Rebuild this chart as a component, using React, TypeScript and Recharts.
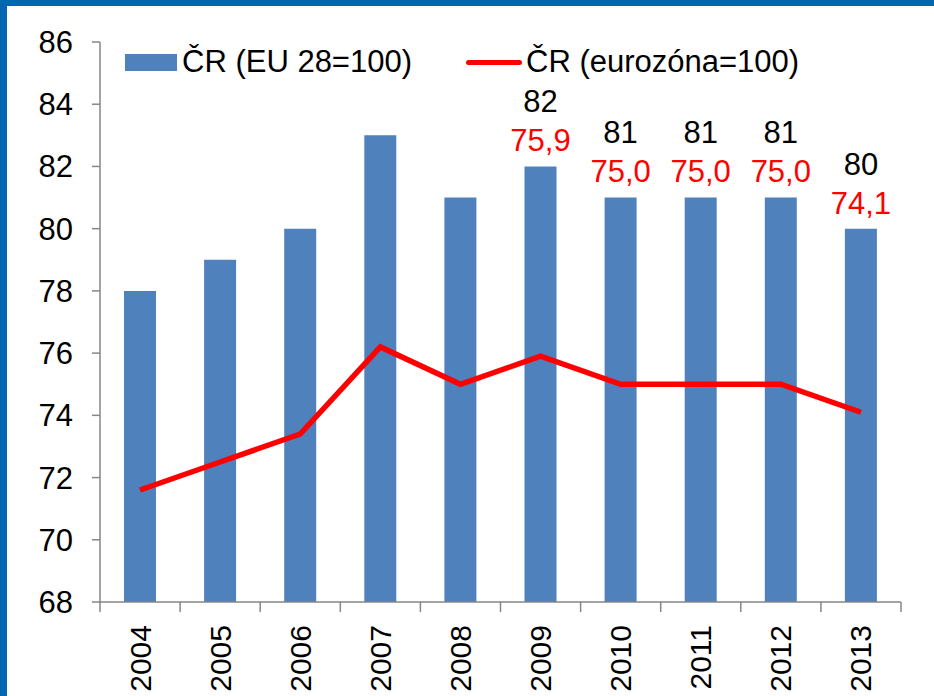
import { ComposedChart, Bar, Line, XAxis, YAxis, LabelList } from 'recharts';

const years = ['2004', '2005', '2006', '2007', '2008', '2009', '2010', '2011', '2012', '2013'];
const euValues = [78, 79, 80, 83, 81, 82, 81, 81, 81, 80];
const ezValues = [71.6, 72.5, 73.4, 76.2, 75.0, 75.9, 75.0, 75.0, 75.0, 74.1];
const yTicks = [68, 70, 72, 74, 76, 78, 80, 82, 84, 86];
const labeledYears = ['2009', '2010', '2011', '2012', '2013'];
const euName = 'ČR (EU 28=100)';
const ezName = 'ČR (eurozóna=100)';

const data = years.map((year, i) => ({ year, eu: euValues[i], ez: ezValues[i] }));

const FONT = '"Liberation Sans", Arial, sans-serif';
const FS = 31;
const FS_X = 30;
const BLUE = '#4F81BD';
const RED = '#FF0000';
const AXIS = '#868686';

const CHART_W = 927;
const CHART_H = 690;
const MARGIN = { top: 36, right: 33, bottom: 0, left: 0 };
const Y_AXIS_W = 93;
const X_AXIS_H = 94;
const band = (CHART_W - MARGIN.left - MARGIN.right - Y_AXIS_W) / years.length;

const fmt = (v: number) => v.toFixed(1).replace('.', ',');

const YearTick = (props: any) => {
  const { x, y, payload, index } = props;
  const last = index === years.length - 1;
  const tx = x + FS_X * 0.35;
  return (
    <g>
      <line x1={x - band / 2} y1={y} x2={x - band / 2} y2={y + 10} stroke={AXIS} strokeWidth={1.5} />
      {last && (
        <line x1={x + band / 2} y1={y} x2={x + band / 2} y2={y + 10} stroke={AXIS} strokeWidth={1.5} />
      )}
      <text
        x={tx}
        y={y + 23}
        transform={`rotate(-90, ${tx}, ${y + 23})`}
        textAnchor="end"
        fontSize={FS_X}
        fontFamily={FONT}
        fill="#000"
      >
        {payload.value}
      </text>
    </g>
  );
};

const ValueLabels = (props: any) => {
  const { x, y, width, index } = props;
  if (!labeledYears.includes(years[index])) return null;
  const cx = x + width / 2;
  return (
    <g fontFamily={FONT} fontSize={FS} textAnchor="middle">
      <text x={cx} y={y - 65 + FS * 0.35} fill="#000">
        {euValues[index]}
      </text>
      <text x={cx} y={y - 26 + FS * 0.35} fill={RED}>
        {fmt(ezValues[index])}
      </text>
    </g>
  );
};

export default function App() {
  return (
    <div
      style={{
        position: 'fixed',
        left: 0,
        top: 0,
        width: 934,
        height: 696,
        background: '#fff',
        boxSizing: 'border-box',
        borderTop: '6px solid #0067B0',
        borderLeft: '7px solid #0067B0',
        fontFamily: FONT,
        overflow: 'hidden',
      }}
    >
      <ComposedChart width={CHART_W} height={CHART_H} data={data} margin={MARGIN} barCategoryGap="60%">
        <XAxis
          dataKey="year"
          height={X_AXIS_H}
          axisLine={{ stroke: AXIS, strokeWidth: 1.5 }}
          tickLine={false}
          tickSize={0}
          tickMargin={0}
          interval={0}
          tick={<YearTick />}
        />
        <YAxis
          width={Y_AXIS_W}
          domain={[68, 86]}
          ticks={yTicks}
          interval={0}
          axisLine={{ stroke: AXIS, strokeWidth: 1.5 }}
          tickLine={{ stroke: AXIS, strokeWidth: 1.5 }}
          tickSize={8}
          tickMargin={19}
          tick={{ fill: '#000', fontSize: FS, fontFamily: FONT }}
        />
        <Bar dataKey="eu" name={euName} fill={BLUE} barSize={32} isAnimationActive={false}>
          <LabelList dataKey="eu" content={<ValueLabels />} />
        </Bar>
        <Line
          dataKey="ez"
          name={ezName}
          type="linear"
          stroke={RED}
          strokeWidth={5.5}
          dot={false}
          activeDot={false}
          isAnimationActive={false}
        />
      </ComposedChart>
      <div
        style={{
          position: 'absolute',
          left: 118,
          top: 40,
          display: 'flex',
          alignItems: 'center',
          height: 32,
          fontSize: FS,
          color: '#000',
          whiteSpace: 'nowrap',
        }}
      >
        <span style={{ display: 'inline-block', width: 52, height: 17, background: BLUE, marginRight: 5 }} />
        <span>{euName}</span>
        <span
          style={{
            display: 'inline-block',
            width: 56,
            height: 5,
            borderRadius: 3,
            background: RED,
            marginLeft: 54,
            marginRight: 4,
          }}
        />
        <span>{ezName}</span>
      </div>
    </div>
  );
}
